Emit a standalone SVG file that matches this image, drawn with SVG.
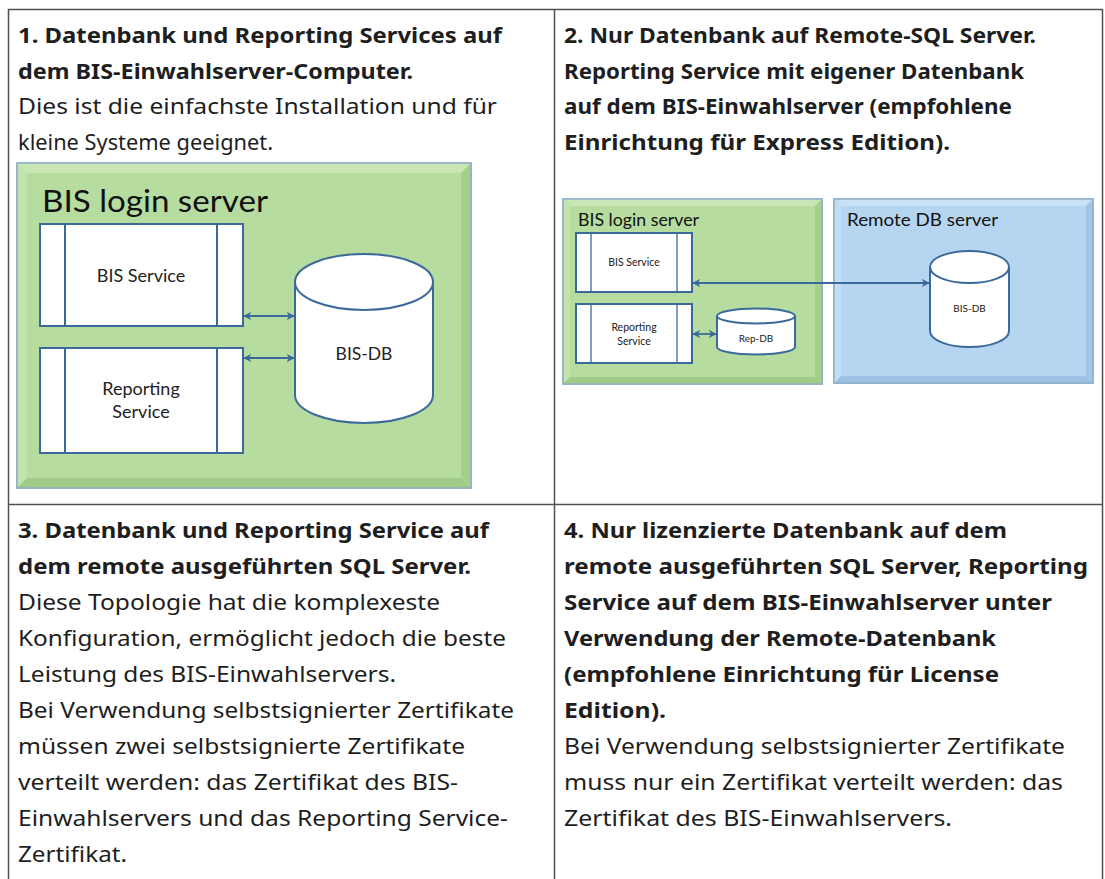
<svg xmlns="http://www.w3.org/2000/svg" width="1105" height="879" viewBox="0 0 1105 879">
<style>
.t{font-family:"Noto Sans","Liberation Sans",Arial,sans-serif;font-size:22px;fill:#1e1e1e}
.b{font-weight:bold}
.grid{stroke:#505050;stroke-width:1.5;fill:none}
.frame{stroke:#8fb0c8;stroke-width:1.5}
.svc{fill:#ffffff;stroke:#3b6a9a;stroke-width:2}
.db{fill:#ffffff;stroke:#3b6a9a;stroke-width:2}
.lbl{font-family:Lato,"Liberation Sans",sans-serif;fill:#222;text-anchor:middle}
.ttl{font-family:Lato,"Liberation Sans",sans-serif;fill:#111}
.conn{stroke:#3b6a9a;stroke-width:1.8;fill:none;marker-start:url(#ah);marker-end:url(#ah)}
</style>
<defs>
<marker id="ah" viewBox="0 0 10 10" refX="9" refY="5" markerWidth="4.5" markerHeight="4.5" orient="auto-start-reverse" markerUnits="strokeWidth">
<path d="M0,0 L10,5 L0,10 L3,5 Z" fill="#3b6a9a"/>
</marker>
</defs>
<rect width="1105" height="879" fill="#ffffff"/>
<g id="table">
<path class="grid" d="M8.5,879 V9.5 H1102.5 V879 M554.5,9.5 V879 M8.5,504.5 H1102.5"/>
</g>
<g id="cell1">
<text class="t b" x="18" y="43" textLength="484" lengthAdjust="spacingAndGlyphs">1. Datenbank und Reporting Services auf</text>
<text class="t b" x="18" y="78.5" textLength="395" lengthAdjust="spacingAndGlyphs">dem BIS-Einwahlserver-Computer.</text>
<text class="t" x="18" y="114" textLength="479" lengthAdjust="spacingAndGlyphs">Dies ist die einfachste Installation und für</text>
<text class="t" x="18" y="149.5" textLength="255" lengthAdjust="spacingAndGlyphs">kleine Systeme geeignet.</text>
</g>
<g id="cell2">
<text class="t b" x="564" y="43" textLength="472" lengthAdjust="spacingAndGlyphs">2. Nur Datenbank auf Remote-SQL Server.</text>
<text class="t b" x="564" y="78.5" textLength="460" lengthAdjust="spacingAndGlyphs">Reporting Service mit eigener Datenbank</text>
<text class="t b" x="564" y="114" textLength="448" lengthAdjust="spacingAndGlyphs">auf dem BIS-Einwahlserver (empfohlene</text>
<text class="t b" x="564" y="149.5" textLength="386" lengthAdjust="spacingAndGlyphs">Einrichtung für Express Edition).</text>
</g>
<g id="cell3">
<text class="t b" x="18" y="538" textLength="471" lengthAdjust="spacingAndGlyphs">3. Datenbank und Reporting Service auf</text>
<text class="t b" x="18" y="574" textLength="453" lengthAdjust="spacingAndGlyphs">dem remote ausgeführten SQL Server.</text>
<text class="t" x="18" y="610" textLength="422" lengthAdjust="spacingAndGlyphs">Diese Topologie hat die komplexeste</text>
<text class="t" x="18" y="646" textLength="488" lengthAdjust="spacingAndGlyphs">Konfiguration, ermöglicht jedoch die beste</text>
<text class="t" x="18" y="682" textLength="378" lengthAdjust="spacingAndGlyphs">Leistung des BIS-Einwahlservers.</text>
<text class="t" x="18" y="718" textLength="496" lengthAdjust="spacingAndGlyphs">Bei Verwendung selbstsignierter Zertifikate</text>
<text class="t" x="18" y="754" textLength="447" lengthAdjust="spacingAndGlyphs">müssen zwei selbstsignierte Zertifikate</text>
<text class="t" x="18" y="790" textLength="440" lengthAdjust="spacingAndGlyphs">verteilt werden: das Zertifikat des BIS-</text>
<text class="t" x="18" y="826" textLength="490" lengthAdjust="spacingAndGlyphs">Einwahlservers und das Reporting Service-</text>
<text class="t" x="18" y="862" textLength="109" lengthAdjust="spacingAndGlyphs">Zertifikat.</text>
</g>
<g id="cell4">
<text class="t b" x="564" y="538" textLength="443" lengthAdjust="spacingAndGlyphs">4. Nur lizenzierte Datenbank auf dem</text>
<text class="t b" x="564" y="574" textLength="524" lengthAdjust="spacingAndGlyphs">remote ausgeführten SQL Server, Reporting</text>
<text class="t b" x="564" y="610" textLength="488" lengthAdjust="spacingAndGlyphs">Service auf dem BIS-Einwahlserver unter</text>
<text class="t b" x="564" y="646" textLength="432" lengthAdjust="spacingAndGlyphs">Verwendung der Remote-Datenbank</text>
<text class="t b" x="564" y="682" textLength="435" lengthAdjust="spacingAndGlyphs">(empfohlene Einrichtung für License</text>
<text class="t b" x="564" y="718" textLength="102" lengthAdjust="spacingAndGlyphs">Edition).</text>
<text class="t" x="564" y="754" textLength="501" lengthAdjust="spacingAndGlyphs">Bei Verwendung selbstsignierter Zertifikate</text>
<text class="t" x="564" y="790" textLength="499" lengthAdjust="spacingAndGlyphs">muss nur ein Zertifikat verteilt werden: das</text>
<text class="t" x="564" y="826" textLength="388" lengthAdjust="spacingAndGlyphs">Zertifikat des BIS-Einwahlservers.</text>
</g>
<!-- Diagram 1 -->
<g id="d1-server">
<rect x="17" y="163" width="454" height="325" fill="#b6dd9f" class="frame"/>
<polygon points="17,163 471,163 461,173 27,173" fill="#c8e7b5"/>
<polygon points="17,163 27,173 27,478 17,488" fill="#c2e3ad"/>
<polygon points="471,163 471,488 461,478 461,173" fill="#a5d08b"/>
<polygon points="17,488 471,488 461,478 27,478" fill="#9fcb86"/>
<rect x="17" y="163" width="454" height="325" fill="none" class="frame"/>
<text class="ttl" x="42" y="212" font-size="30" textLength="226" lengthAdjust="spacingAndGlyphs">BIS login server</text>
</g>
<g id="d1-bis-service">
<rect class="svc" x="40" y="224" width="203" height="102"/>
<path d="M65,224 V326 M217,224 V326" stroke="#3b6a9a" stroke-width="2"/>
<text class="lbl" x="141" y="282" font-size="18">BIS Service</text>
</g>
<g id="d1-reporting">
<rect class="svc" x="40" y="348" width="203" height="105"/>
<path d="M65,348 V453 M217,348 V453" stroke="#3b6a9a" stroke-width="2"/>
<text class="lbl" x="141" y="395" font-size="18">Reporting</text>
<text class="lbl" x="141" y="418" font-size="18">Service</text>
</g>
<g id="d1-bisdb">
<path class="db" d="M295,282 V395 A69,28 0 0 0 433,395 V282 A69,28 0 0 0 295,282 Z"/>
<path class="db" fill="none" d="M295,282 A69,28 0 0 0 433,282"/>
<text class="lbl" x="364" y="360" font-size="17.5">BIS-DB</text>
</g>
<!-- Diagram 2 -->
<g id="d2-server">
<rect x="563" y="199" width="259" height="185" fill="#b6dd9f" class="frame"/>
<polygon points="563,199 822,199 815,206 570,206" fill="#c8e7b5"/>
<polygon points="563,199 570,206 570,377 563,384" fill="#c2e3ad"/>
<polygon points="822,199 822,384 815,377 815,206" fill="#a5d08b"/>
<polygon points="563,384 822,384 815,377 570,377" fill="#9fcb86"/>
<rect x="563" y="199" width="259" height="185" fill="none" class="frame"/>
<text class="ttl" x="578" y="226" font-size="18" textLength="121" lengthAdjust="spacingAndGlyphs">BIS login server</text>
</g>
<g id="d2-remote">
<rect x="834" y="199" width="259" height="184" fill="#b6d5f0" class="frame"/>
<polygon points="834,199 1093,199 1086,206 841,206" fill="#c9e1f6"/>
<polygon points="834,199 841,206 841,376 834,383" fill="#c3ddf4"/>
<polygon points="1093,199 1093,383 1086,376 1086,206" fill="#a1c5e6"/>
<polygon points="834,383 1093,383 1086,376 841,376" fill="#9bc1e3"/>
<rect x="834" y="199" width="259" height="184" fill="none" class="frame"/>
<text class="ttl" x="847" y="226" font-size="18" textLength="151" lengthAdjust="spacingAndGlyphs">Remote DB server</text>
</g>
<g id="d2-bis-service">
<rect class="svc" x="576" y="233" width="116" height="59" stroke-width="1.3"/>
<path d="M591,233 V292 M677,233 V292" stroke="#3b6a9a" stroke-width="1.3"/>
<text class="lbl" x="634" y="266" font-size="10.5">BIS Service</text>
</g>
<g id="d2-reporting">
<rect class="svc" x="576" y="304" width="116" height="59" stroke-width="1.3"/>
<path d="M591,304 V363 M677,304 V363" stroke="#3b6a9a" stroke-width="1.3"/>
<text class="lbl" x="634" y="331" font-size="10.5">Reporting</text>
<text class="lbl" x="634" y="344.5" font-size="10.5">Service</text>
</g>
<g id="d2-repdb">
<path class="db" stroke-width="1.3" d="M717,316 V347 A39,7.5 0 0 0 795,347 V316 A39,7.5 0 0 0 717,316 Z"/>
<path class="db" stroke-width="1.3" fill="none" d="M717,316 A39,7.5 0 0 0 795,316"/>
<text class="lbl" x="756" y="342" font-size="10">Rep-DB</text>
</g>
<g id="d2-bisdb">
<path class="db" stroke-width="1.3" d="M930,267 V331 A39.5,16 0 0 0 1009,331 V267 A39.5,16 0 0 0 930,267 Z"/>
<path class="db" stroke-width="1.3" fill="none" d="M930,267 A39.5,16 0 0 0 1009,267"/>
<text class="lbl" x="969.5" y="312" font-size="10">BIS-DB</text>
</g>
<g id="connectors">
<line class="conn" x1="244" y1="316" x2="294" y2="316"/>
<line class="conn" x1="244" y1="358" x2="294" y2="358"/>
<line class="conn" x1="693" y1="334" x2="716" y2="334" stroke-width="1.3"/>
<line class="conn" x1="693" y1="283" x2="929" y2="283" stroke-width="1.3"/>
</g>
</svg>
